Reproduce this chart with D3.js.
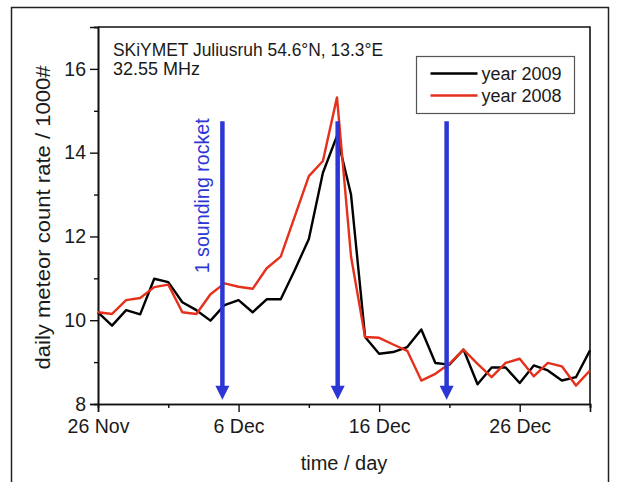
<!DOCTYPE html>
<html>
<head>
<meta charset="utf-8">
<style>
  body { margin: 0; background: #fff; }
  text { font-family: "Liberation Sans", Arial, sans-serif; fill: #1a1a1a; }
</style>
</head>
<body>
<svg width="617" height="482"></svg>
<script src="https://d3js.org/d3.v7.min.js"></script>
<script>

// days after 26 Nov
var days = [0,1,2,3,4,5,6,7,8,9,10,11,12,13,14,15,16,17,18,19,20,21,22,23,24,25,26,27,28,29,30,31,32,33,34,35];
var year2009 = [10.19,9.87,10.24,10.14,10.99,10.91,10.43,10.24,9.99,10.36,10.48,10.19,10.50,10.50,11.20,11.94,13.52,14.40,13.00,9.60,9.20,9.24,9.36,9.78,8.98,8.94,9.30,8.47,8.87,8.87,8.50,8.92,8.80,8.56,8.64,9.28];
var year2008 = [10.19,10.15,10.48,10.53,10.79,10.85,10.19,10.15,10.62,10.88,10.80,10.75,11.24,11.52,12.48,13.44,13.80,15.32,11.52,9.60,9.58,9.42,9.27,8.56,8.72,8.96,9.30,8.96,8.64,8.98,9.08,8.66,8.98,8.90,8.44,8.80];
var rocketDays = [8.85, 17.05, 24.8];
var rocketTop = 14.75, rocketTip = 8.1;
var xTickDays = [0, 10, 20, 30];
var xTickLabels = ["26 Nov", "6 Dec", "16 Dec", "26 Dec"];
var xMinorDays = [5, 15, 25, 35];
var yTicks = [8, 10, 12, 14, 16];
var yMinor = [9, 11, 13, 15, 17];

var svg = d3.select("svg"),
    margin = {top: 27, right: 27, bottom: 78, left: 98},
    width = +svg.attr("width") - margin.left - margin.right,
    height = +svg.attr("height") - margin.top - margin.bottom;

// outer frame of the figure
svg.append("rect")
    .attr("x", 11.5).attr("y", 7.5)
    .attr("width", 597).attr("height", 500)
    .attr("fill", "none").attr("stroke", "#222").attr("stroke-width", 1.5);

var g = svg.append("g").attr("transform", "translate(" + margin.left + "," + margin.top + ")");

var x = d3.scaleLinear().domain([0, 35]).range([0, width]),
    y = d3.scaleLinear().domain([8, 17]).range([height, 0]);

var line = function(vals) {
  return d3.line()
      .x(function(d, i) { return x(days[i]); })
      .y(function(d) { return y(d); })(vals);
};

// x axis: major + minor ticks, outward
g.append("g")
    .attr("class", "axis axis--x")
    .attr("transform", "translate(0," + height + ")")
    .call(d3.axisBottom(x).tickValues(xTickDays).tickSize(8).tickPadding(7)
      .tickFormat(function(d, i) { return xTickLabels[i]; }));
g.append("g")
    .attr("class", "axis minor")
    .attr("transform", "translate(0," + height + ")")
    .call(d3.axisBottom(x).tickValues(xMinorDays).tickSize(4).tickFormat(""));

g.append("g")
    .attr("class", "axis axis--y")
    .call(d3.axisLeft(y).tickValues(yTicks).tickSize(8).tickPadding(4).tickFormat(d3.format("d")));
g.append("g")
    .attr("class", "axis minor")
    .call(d3.axisLeft(y).tickValues(yMinor).tickSize(4).tickFormat(""));

g.selectAll(".axis .domain").attr("stroke", "#111").attr("stroke-width", 1.6);
g.selectAll(".axis line").attr("stroke", "#111").attr("stroke-width", 1.4);
g.selectAll(".axis text").style("font-size", "19.5px").attr("fill", "#1a1a1a");

// top and right edges of the plot box
g.append("path")
    .attr("d", "M0,0H" + width + "V" + height)
    .attr("fill", "none").attr("stroke", "#111").attr("stroke-width", 1.6);

// data lines
g.append("path")
    .attr("fill", "none").attr("stroke", "#000").attr("stroke-width", 2.4)
    .attr("stroke-linejoin", "round")
    .attr("d", line(year2009));
g.append("path")
    .attr("fill", "none").attr("stroke", "#e5301c").attr("stroke-width", 2.4)
    .attr("stroke-linejoin", "round")
    .attr("d", line(year2008));

// rocket arrows
var blue = "#2c36d4";
var arrows = g.selectAll(".rocket").data(rocketDays).enter().append("g").attr("class", "rocket");
arrows.append("line")
    .attr("x1", function(d) { return x(d); }).attr("x2", function(d) { return x(d); })
    .attr("y1", y(rocketTop)).attr("y2", y(rocketTip) - 12)
    .attr("stroke", blue).attr("stroke-width", 4.5);
arrows.append("path")
    .attr("fill", blue)
    .attr("d", function(d) {
      var cx = x(d), ty = y(rocketTip);
      return "M" + (cx - 7) + "," + (ty - 14) + "L" + (cx + 7) + "," + (ty - 14) + "L" + cx + "," + ty + "Z";
    });

g.append("text")
    .attr("transform", "translate(" + (x(rocketDays[0]) - 20) + "," + (y(rocketTop) - 3) + ") rotate(-90)")
    .attr("text-anchor", "end")
    .attr("dy", "0.35em")
    .attr("textLength", 155).attr("lengthAdjust", "spacingAndGlyphs")
    .style("font-size", "20px").style("fill", blue)
    .text("1 sounding rocket");

// station note
g.append("text").attr("x", 15).attr("y", 29).style("font-size", "18px")
    .attr("textLength", 270).attr("lengthAdjust", "spacingAndGlyphs")
    .text("SKiYMET Juliusruh 54.6°N, 13.3°E");
g.append("text").attr("x", 15).attr("y", 48).style("font-size", "18px")
    .text("32.55 MHz");

// legend
var leg = g.append("g").attr("transform", "translate(" + (416.5 - margin.left) + "," + (56.5 - margin.top) + ")");
leg.append("rect").attr("width", 158).attr("height", 57)
    .attr("fill", "#fff").attr("stroke", "#555").attr("stroke-width", 1.2);
var legItems = [{label: "year 2009", color: "#000"}, {label: "year 2008", color: "#e5301c"}];
legItems.forEach(function(d, i) {
  leg.append("line").attr("x1", 14).attr("x2", 61).attr("y1", 17 + i * 22).attr("y2", 17 + i * 22)
      .attr("stroke", d.color).attr("stroke-width", 2.4);
  leg.append("text").attr("x", 65).attr("y", 17 + i * 22).attr("dy", "0.35em")
      .style("font-size", "18px").text(d.label);
});

// axis titles
svg.append("text")
    .attr("transform", "translate(50," + (margin.top + height / 2 + 2) + ") rotate(-90)")
    .attr("text-anchor", "middle")
    .attr("textLength", 304).attr("lengthAdjust", "spacingAndGlyphs")
    .style("font-size", "20px")
    .text("daily meteor count rate / 1000#");
svg.append("text")
    .attr("x", margin.left + width / 2).attr("y", 470)
    .attr("text-anchor", "middle")
    .style("font-size", "20px")
    .text("time / day");

</script>
</body>
</html>
